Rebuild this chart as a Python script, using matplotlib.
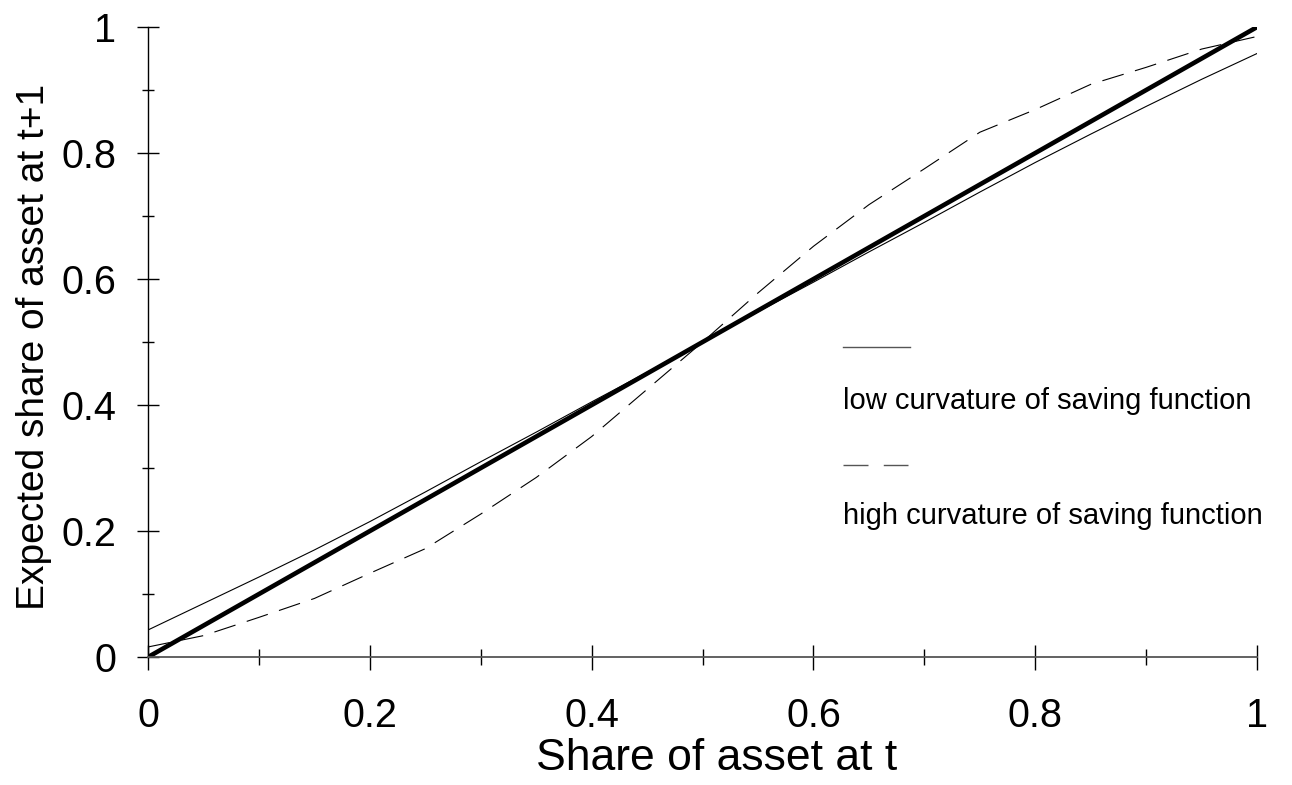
import numpy as np
import matplotlib
matplotlib.use("Agg")
import matplotlib.pyplot as plt

plt.rcParams['font.family'] = ['Liberation Sans', 'DejaVu Sans']
plt.rcParams['lines.scale_dashes'] = False

# share of asset at t
share_t = [0, 0.05, 0.1, 0.15, 0.2, 0.25, 0.3, 0.35, 0.4, 0.45, 0.5,
           0.55, 0.6, 0.65, 0.7, 0.75, 0.8, 0.85, 0.9, 0.95, 1.0]
# low curvature of saving function
low_curv = [0.043, 0.085, 0.127, 0.17, 0.215, 0.262, 0.31, 0.357, 0.405, 0.452, 0.5,
            0.548, 0.595, 0.643, 0.69, 0.738, 0.785, 0.83, 0.874, 0.917, 0.958]
# high curvature of saving function
high_curv = [0.016, 0.034, 0.063, 0.093, 0.133, 0.172, 0.227, 0.285, 0.35, 0.425, 0.5,
             0.578, 0.652, 0.718, 0.775, 0.833, 0.869, 0.909, 0.936, 0.965, 0.985]
# 45 degree line
diag_x = [0, 1]
diag_y = [0, 1]

fig = plt.figure(figsize=(12.92, 7.85), dpi=100)
ax = fig.add_axes([0.1146, 0.163, 0.8584, 0.8026])

ax.plot(diag_x, diag_y, color='black', lw=3.3, solid_capstyle='round')
ax.plot(share_t, low_curv, color='black', lw=0.8)
ax.plot(share_t, high_curv, color='black', lw=0.8, dashes=(16, 8.5))

ax.set_xlim(0, 1)
ax.set_ylim(0, 1)
for s in ['top', 'right']:
    ax.spines[s].set_visible(False)
ax.spines['left'].set_linewidth(1.0)
ax.spines['bottom'].set_linewidth(1.3)
ax.spines['bottom'].set_color('#555555')

ax.set_xticks([0, 0.2, 0.4, 0.6, 0.8, 1])
ax.set_xticklabels(['0', '0.2', '0.4', '0.6', '0.8', '1'])
ax.set_yticks([0, 0.2, 0.4, 0.6, 0.8, 1])
ax.set_yticklabels(['0', '0.2', '0.4', '0.6', '0.8', '1'])
ax.set_xticks(np.arange(0.1, 1.0, 0.2), minor=True)
ax.set_yticks(np.arange(0.1, 1.0, 0.2), minor=True)
ax.tick_params(axis='x', which='major', direction='inout', length=18, width=1, labelsize=28.5, pad=20)
ax.tick_params(axis='x', which='minor', direction='inout', length=11, width=1)
ax.tick_params(axis='y', which='major', direction='inout', length=16, width=1, labelsize=28.5, pad=15)
ax.tick_params(axis='y', which='minor', direction='inout', length=8, width=1)

ax.set_xlabel('Share of asset at t', fontsize=32)
ax.set_ylabel('Expected share of asset at t+1', fontsize=28)
ax.xaxis.set_label_coords(0.513, -0.128)
ax.yaxis.set_label_coords(-0.087, 0.492)

# legend drawn by hand: sample line above each label
ax.plot([0.627, 0.687], [0.492, 0.492], color='#555555', lw=1, transform=ax.transAxes, clip_on=False)
ax.text(0.627, 0.407, 'low curvature of saving function', fontsize=21,
        transform=ax.transAxes, va='center', ha='left')
ax.plot([0.627, 0.685], [0.305, 0.305], color='#555555', lw=1, dashes=(18, 11),
        transform=ax.transAxes, clip_on=False)
ax.text(0.627, 0.224, 'high curvature of saving function', fontsize=21,
        transform=ax.transAxes, va='center', ha='left')

fig.savefig('out.png', dpi=100)
